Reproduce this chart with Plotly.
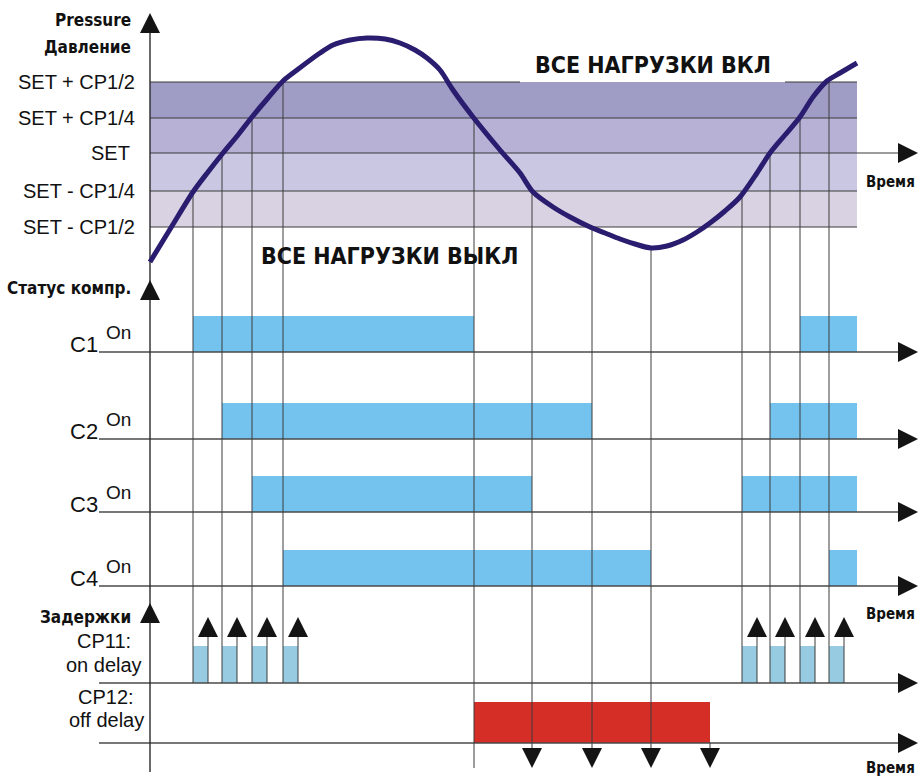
import plotly.graph_objects as go

# ---------------- data (diagram units: time -> x, level/row -> y) ----------------
t_axis = 150            # time origin (vertical axis)
t_end = 857             # end of drawn period
t_arrow = 918           # time-axis arrow tip
t_label_left = 99       # row baselines start

# pressure levels (y) and labels
level_labels = ["SET + CP1/2", "SET + CP1/4", "SET ", "SET - CP1/4", "SET - CP1/2"]
level_y = [82, 118, 153, 191, 227]
band_colors = ["#9F9CC6", "#B7B1D6", "#C9C7E1", "#D9D2E2"]

# pressure curve (time, level-y)
curve_t = [150, 172, 193, 208, 223, 238, 252, 268, 283, 297, 320, 333, 350, 367, 385, 400,
           415, 427, 440, 453, 473, 500, 520, 533, 553, 570, 590, 605, 620, 635, 651, 667,
           683, 697, 710, 725, 740, 757, 770, 785, 800, 813, 827, 840, 857]
curve_y = [262, 226, 192, 172, 153, 135, 117, 98, 81, 70, 53, 45, 40, 38, 39, 43,
           50, 58, 70, 90, 117, 150, 173, 192, 207, 217, 227, 233, 239, 244, 248, 246,
           240, 232, 223, 211, 197, 173, 153, 135, 117, 97, 81, 73, 63]

# compressor switching times
on_times_rise = [193, 222, 252, 283]
on_start_y_rise = [191, 153, 118, 82]
on_times_rise2 = [742, 770, 800, 829]
on_start_y_rise2 = [191, 153, 118, 82]
off_times = [474, 532, 592, 651]
off_start_y = [118, 191, 227, 248]
off_delay_end = 710

# compressor rows
comp_names = ["C1", "C2", "C3", "C4"]
comp_base_y = [352, 439, 512, 586]
comp_on_start = [[193, 800], [222, 770], [252, 742], [283, 829]]
comp_on_end = [[474, 857], [592, 857], [532, 857], [651, 857]]
bar_h = 36

# delay rows
on_delay_base_y = 683
on_delay_len = 15
on_delay_h = 37
off_delay_base_y = 743
off_delay_h = 41
delay_arrow_tip_up = 617
delay_arrow_tip_down = 768

axis_arrow_tips = [13, 280, 603]
axis_bottom = 772

LINE = "#3a3a3a"
ARROW = "#141414"
FONT = "Liberation Sans, Arial, sans-serif"
FONT_B = "Liberation Sans Narrow, DejaVu Sans Condensed, Arial Narrow, sans-serif"

fig = go.Figure()

# ---------------- bands ----------------
for i, col in enumerate(band_colors):
    fig.add_shape(type="rect", xref="x", yref="y", x0=t_axis, x1=t_end,
                  y0=level_y[i], y1=level_y[i + 1], fillcolor=col, line_width=0, layer="below")

# horizontal band lines
hx, hy = [], []
# top line with a gap for the label
for a, b in [(t_axis, 520), (785, t_end)]:
    hx += [a, b, None]; hy += [level_y[0], level_y[0], None]
for yv in [level_y[1], level_y[3], level_y[4]]:
    hx += [t_axis, t_end, None]; hy += [yv, yv, None]
hx += [t_axis, t_arrow - 18, None]; hy += [level_y[2], level_y[2], None]
fig.add_trace(go.Scatter(x=hx, y=hy, mode="lines", line=dict(color=LINE, width=1.2),
                         hoverinfo="skip"))

# ---------------- compressor bars ----------------
for name, by, s_list, e_list in zip(comp_names, comp_base_y, comp_on_start, comp_on_end):
    fig.add_trace(go.Bar(orientation="h", base=s_list,
                         x=[e - s for s, e in zip(s_list, e_list)],
                         y=[by - bar_h / 2] * len(s_list), width=bar_h,
                         marker=dict(color="#74C3EE", line_width=0), hoverinfo="skip"))

# on-delay bars
od_starts = on_times_rise + on_times_rise2
fig.add_trace(go.Bar(orientation="h", base=od_starts, x=[on_delay_len] * len(od_starts),
                     y=[on_delay_base_y - on_delay_h / 2] * len(od_starts), width=on_delay_h,
                     marker=dict(color="#97CBE2", line_width=0), hoverinfo="skip"))
# off-delay bar
fig.add_trace(go.Bar(orientation="h", base=[off_times[0]], x=[off_delay_end - off_times[0]],
                     y=[off_delay_base_y - off_delay_h / 2], width=off_delay_h,
                     marker=dict(color="#D42E27", line_width=0), hoverinfo="skip"))

# ---------------- row baselines ----------------
row_ys = comp_base_y + [on_delay_base_y, off_delay_base_y]
bx, byy = [], []
for yv in row_ys:
    bx += [t_label_left, t_arrow - 18, None]; byy += [yv, yv, None]
fig.add_trace(go.Scatter(x=bx, y=byy, mode="lines", line=dict(color="#4a4a4a", width=1.3),
                         hoverinfo="skip"))

# ---------------- guide lines ----------------
gx, gy = [], []
for t, y0 in zip(on_times_rise + on_times_rise2, on_start_y_rise + on_start_y_rise2):
    gx += [t, t, None]; gy += [y0, on_delay_base_y, None]
gx += [off_times[0], off_times[0], None]; gy += [off_start_y[0], delay_arrow_tip_down, None]
for t, y0 in zip(off_times[1:], off_start_y[1:]):
    gx += [t, t, None]; gy += [y0, delay_arrow_tip_down - 18, None]
gx += [off_delay_end, off_delay_end, None]; gy += [off_delay_base_y, delay_arrow_tip_down - 18, None]
# on-delay arrow shafts
for t in od_starts:
    gx += [t + on_delay_len, t + on_delay_len, None]
    gy += [on_delay_base_y, delay_arrow_tip_up + 18, None]
fig.add_trace(go.Scatter(x=gx, y=gy, mode="lines", line=dict(color="#3c3c3c", width=1),
                         hoverinfo="skip"))

# main vertical axis
fig.add_trace(go.Scatter(x=[t_axis, t_axis], y=[axis_arrow_tips[0] + 18, axis_bottom],
                         mode="lines", line=dict(color="#2a2a2a", width=1.4), hoverinfo="skip"))

# ---------------- pressure curve ----------------
fig.add_trace(go.Scatter(x=curve_t, y=curve_y, mode="lines",
                         line=dict(color="#2A1C6E", width=5, shape="spline", smoothing=0.8),
                         hoverinfo="skip"))

# ---------------- arrowheads ----------------
fig.add_trace(go.Scatter(x=[t_axis] * 3, y=axis_arrow_tips, mode="markers",
                         marker=dict(symbol="arrow-up", size=20, color=ARROW, line_width=0),
                         hoverinfo="skip"))
fig.add_trace(go.Scatter(x=[t + on_delay_len for t in od_starts],
                         y=[delay_arrow_tip_up] * len(od_starts), mode="markers",
                         marker=dict(symbol="arrow-up", size=20, color=ARROW, line_width=0),
                         hoverinfo="skip"))
down_ts = off_times[1:] + [off_delay_end]
fig.add_trace(go.Scatter(x=down_ts, y=[delay_arrow_tip_down] * len(down_ts), mode="markers",
                         marker=dict(symbol="arrow-down", size=20, color=ARROW, line_width=0),
                         hoverinfo="skip"))
right_ys = [level_y[2]] + row_ys
fig.add_trace(go.Scatter(x=[t_arrow] * len(right_ys), y=right_ys, mode="markers",
                         marker=dict(symbol="arrow-right", size=20, color=ARROW, line_width=0),
                         hoverinfo="skip"))

# ---------------- texts ----------------
def txt(x, y, s, size, bold=False, anchor="right", bg=None, font=None):
    fig.add_annotation(x=x, y=y, xref="x", yref="y", text=("<b>%s</b>" % s) if bold else s,
                       showarrow=False, xanchor=anchor, yanchor="middle",
                       font=dict(size=size, color="#111111",
                                 family=font or (FONT_B if bold else FONT)),
                       bgcolor=bg)

txt(133, 20, "Pressure", 17, bold=True)
txt(133, 47, "Давление", 17, bold=True)
for lab, yv in zip(level_labels, level_y):
    txt(137, yv, lab, 20)
txt(133, 288, "Статус компр.", 17, bold=True)
for name, by in zip(comp_names, comp_base_y):
    txt(100, by - 8, name, 22)
    txt(133, by - 20, "On", 19)
txt(133, 617, "Задержки", 17, bold=True)
txt(104, 641, "CP11:", 20, anchor="center")
txt(104, 665, "on delay", 20, anchor="center")
txt(106, 697, "CP12:", 20, anchor="center")
txt(106, 720, "off delay", 20, anchor="center")
for yv in [182, 614, 768]:
    txt(864, yv, "Время", 15, bold=True, anchor="left")
txt(653, 65, "ВСЕ НАГРУЗКИ ВКЛ", 23, bold=True, anchor="center")
txt(389, 256, "ВСЕ НАГРУЗКИ ВЫКЛ", 23, bold=True, anchor="center")

fig.update_layout(
    width=922, height=776, margin=dict(l=0, r=0, t=0, b=0),
    paper_bgcolor="white", plot_bgcolor="white", showlegend=False, barmode="overlay",
    xaxis=dict(range=[0, 922], visible=False, fixedrange=True),
    yaxis=dict(range=[776, 0], visible=False, fixedrange=True),
)

fig.write_html("out.html", config={"displayModeBar": False},
               post_script="document.body.style.margin='0';document.body.style.overflow='hidden';")
